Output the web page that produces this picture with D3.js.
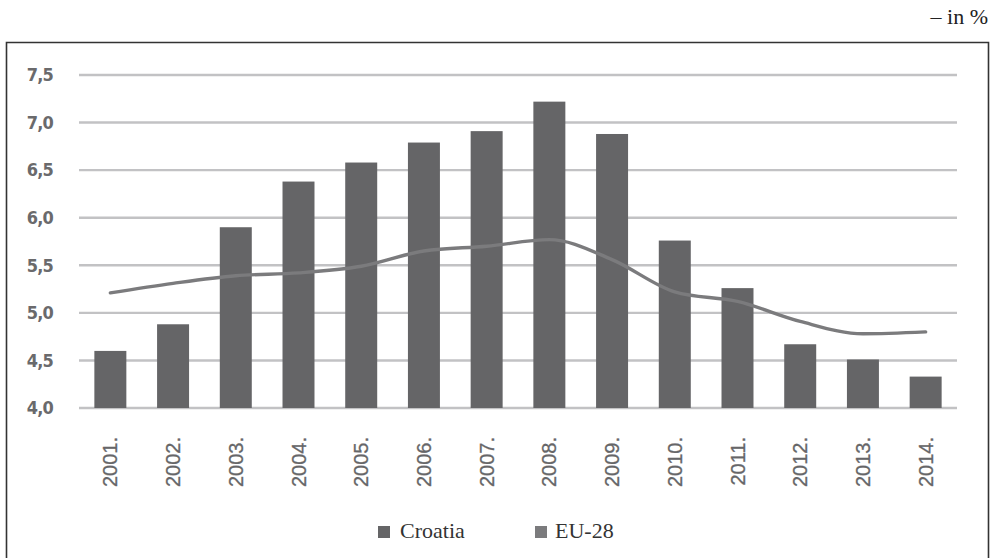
<!DOCTYPE html>
<html>
<head>
<meta charset="utf-8">
<script src="https://cdn.jsdelivr.net/npm/d3@7"></script>
<style>
  html, body { margin: 0; padding: 0; background: #fff; }
  svg { display: block; }
</style>
</head>
<body>
<svg id="chart" width="993" height="558"></svg>
<script>
// Years shown on the category axis
const years = ["2001.", "2002.", "2003.", "2004.", "2005.", "2006.", "2007.",
               "2008.", "2009.", "2010.", "2011.", "2012.", "2013.", "2014."];
// Croatia (bars), in %
const croatia = [4.6, 4.88, 5.9, 6.38, 6.58, 6.79, 6.91, 7.22, 6.88, 5.76, 5.26, 4.67, 4.51, 4.33];
// EU-28 average (line), in %
const eu28 = [5.21, 5.31, 5.39, 5.42, 5.49, 5.65, 5.7, 5.77, 5.56, 5.22, 5.12, 4.91, 4.78, 4.8];
// Value axis ticks
const yTicks = [4.0, 4.5, 5.0, 5.5, 6.0, 6.5, 7.0, 7.5];

const SERIF = '"Liberation Serif", "Times New Roman", serif';
const COND = '"DejaVu Sans Condensed", "DejaVu Sans", sans-serif';
const SANS = '"Liberation Sans", Arial, sans-serif';

const svg = d3.select("#chart");
const W = 993, H = 558;
const plot = { left: 79, right: 957, top: 75, bottom: 408 };

// Outer frame (bottom edge runs past the page)
svg.append("path")
  .attr("d", `M6.5,${H + 5} V42.5 H988.5 V${H + 5}`)
  .attr("fill", "none").attr("stroke", "#333").attr("stroke-width", 1.6);

// Unit note
svg.append("text")
  .style("font-family", SERIF)
  .attr("x", 988).attr("y", 24).attr("text-anchor", "end")
  .attr("font-size", 22).attr("fill", "#222")
  .text("\u2013 in %");

const x = d3.scaleBand().domain(years).range([plot.left, plot.right]).paddingInner(0.49).paddingOuter(0.245);
const y = d3.scaleLinear().domain([4.0, 7.5]).range([plot.bottom, plot.top]);

// Horizontal grid lines
svg.append("g").selectAll("line").data(yTicks).join("line")
  .attr("x1", plot.left).attr("x2", plot.right)
  .attr("y1", d => y(d)).attr("y2", d => y(d))
  .attr("stroke", "#c2c2c4").attr("stroke-width", 2.4);

// Y axis labels
const fmt = d => d.toFixed(1).replace(".", ",");
const yAxis = svg.append("g")
  .attr("transform", `translate(${plot.left - 26},0)`)
  .call(d3.axisLeft(y).tickValues(yTicks).tickFormat(fmt).tickSize(0).tickPadding(0));
yAxis.select(".domain").remove();
yAxis.selectAll("text")
  .style("font-family", COND)
  .attr("font-weight", "bold")
  .attr("font-size", 18).attr("fill", "#6a6a6c")
  .attr("letter-spacing", "-0.8");

// Bars: Croatia
svg.append("g").selectAll("rect").data(years).join("rect")
  .attr("x", d => x(d))
  .attr("width", x.bandwidth())
  .attr("y", (d, i) => y(croatia[i]))
  .attr("height", (d, i) => y(4.0) - y(croatia[i]))
  .attr("fill", "#656567");

// Line: EU-28
const line = d3.line()
  .x((d, i) => x(years[i]) + x.bandwidth() / 2)
  .y(d => y(d))
  .curve(d3.curveMonotoneX);
svg.append("path").datum(eu28)
  .attr("d", line)
  .attr("fill", "none").attr("stroke", "#7b7b7d")
  .attr("stroke-width", 3.4).attr("stroke-linecap", "round");

// X axis labels, rotated
const xAxis = svg.append("g")
  .attr("transform", `translate(0,${plot.bottom + 29})`)
  .call(d3.axisBottom(x).tickSize(0).tickPadding(0));
xAxis.select(".domain").remove();
xAxis.selectAll("text")
  .style("font-family", SANS)
  .attr("transform", "rotate(-90)")
  .attr("text-anchor", "end")
  .attr("x", 0).attr("y", 0).attr("dy", "0.35em")
  .attr("font-size", 20).attr("fill", "#666668")
  .attr("stroke", "#666668").attr("stroke-width", 0.3);

// Legend
const legend = [
  { name: "Croatia", color: "#656567", sx: 378, tx: 400 },
  { name: "EU-28", color: "#7b7b7d", sx: 535, tx: 555 }
];
const lg = svg.append("g");
lg.selectAll("rect").data(legend).join("rect")
  .attr("x", d => d.sx).attr("y", 526).attr("width", 12).attr("height", 12)
  .attr("fill", d => d.color);
lg.selectAll("text").data(legend).join("text")
  .style("font-family", SERIF)
  .attr("x", d => d.tx).attr("y", 538)
  .attr("font-size", 22).attr("fill", "#333")
  .text(d => d.name);
</script>
</body>
</html>
